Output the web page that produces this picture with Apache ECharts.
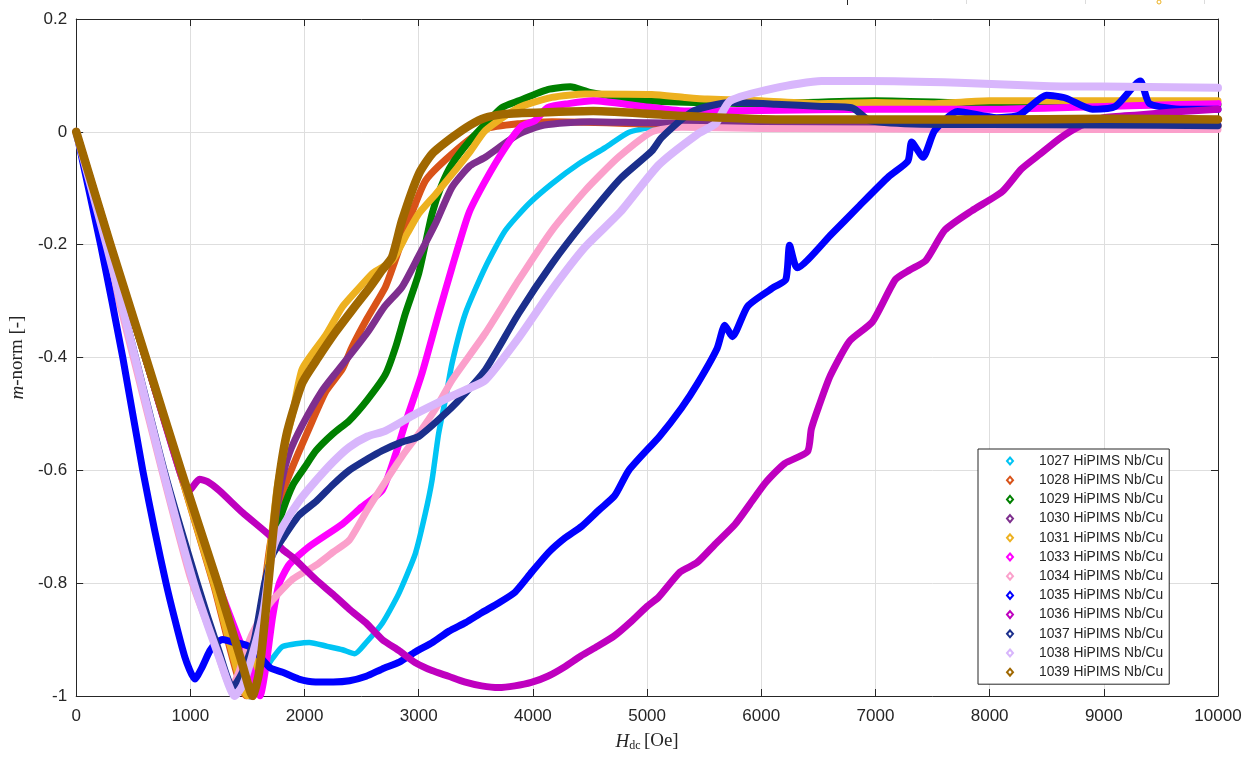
<!DOCTYPE html>
<html><head><meta charset="utf-8">
<script src="https://cdn.jsdelivr.net/npm/echarts@6/dist/echarts.min.js"></script>
<style>html,body{margin:0;padding:0;background:#fff}#c{width:1248px;height:759px}</style>
</head><body><div id="c"></div>
<script>
const seriesNames = ['1027 HiPIMS Nb/Cu','1028 HiPIMS Nb/Cu','1029 HiPIMS Nb/Cu','1030 HiPIMS Nb/Cu','1031 HiPIMS Nb/Cu','1033 HiPIMS Nb/Cu','1034 HiPIMS Nb/Cu','1035 HiPIMS Nb/Cu','1036 HiPIMS Nb/Cu','1037 HiPIMS Nb/Cu','1038 HiPIMS Nb/Cu','1039 HiPIMS Nb/Cu'];
const seriesColors = ['#00C4F4','#D95319','#008000','#7E2F8E','#EDB120','#FF00FF','#FBA0CB','#0000FF','#BF00BF','#1B2F8C','#D8B6FC','#A06800'];
const xTicks = [0,1000,2000,3000,4000,5000,6000,7000,8000,9000,10000];
const yTicks = [-1,-0.8,-0.6,-0.4,-0.2,0,0.2];

const s1027 = [[0,0],[305,-0.2],[615,-0.4],[920,-0.6],[1235,-0.8],[1540,-0.985],[1600,-0.975],[1680,-0.945],[1750,-0.925],[1810,-0.912],[2041,-0.905],[2200,-0.912],[2332,-0.918],[2440,-0.925],[2536,-0.906],[2681,-0.871],[2826,-0.818],[2971,-0.747],[3058,-0.676],[3116,-0.618],[3174,-0.535],[3232,-0.476],[3292,-0.41],[3408,-0.322],[3583,-0.24],[3758,-0.175],[3962,-0.128],[4166,-0.092],[4399,-0.057],[4633,-0.028],[4837,-0.001],[5041,0.008],[5500,0.012],[6000,0.013],[7000,0.012],[8000,0.014],[9000,0.012],[10000,0.013]];
const s1028 = [[0,0],[300,-0.2],[605,-0.4],[905,-0.6],[1200,-0.8],[1490,-1.0],[1560,-0.95],[1630,-0.84],[1700,-0.73],[1790,-0.65],[1866,-0.608],[2041,-0.525],[2187,-0.46],[2332,-0.42],[2417,-0.381],[2550,-0.33],[2708,-0.275],[2790,-0.23],[2883,-0.175],[3058,-0.087],[3292,-0.039],[3583,0.005],[3900,0.015],[4166,0.018],[5041,0.014],[6000,0.011],[7000,0.01],[8000,0.01],[9000,0.01],[10000,0.01]];
const s1029 = [[0,0],[300,-0.2],[605,-0.4],[910,-0.6],[1215,-0.8],[1520,-1.0],[1590,-0.93],[1660,-0.82],[1720,-0.73],[1808,-0.672],[1900,-0.625],[2000,-0.595],[2101,-0.565],[2250,-0.535],[2391,-0.512],[2550,-0.475],[2708,-0.43],[2800,-0.38],[2883,-0.322],[3000,-0.251],[3117,-0.145],[3200,-0.095],[3292,-0.057],[3450,-0.015],[3583,0.014],[3728,0.043],[3875,0.055],[4128,0.075],[4328,0.08],[4500,0.07],[5000,0.055],[6000,0.05],[7000,0.055],[8000,0.05],[9000,0.048],[10000,0.048]];
const s1030 = [[0,0],[300,-0.2],[605,-0.4],[910,-0.6],[1215,-0.8],[1520,-1.0],[1590,-0.93],[1650,-0.83],[1720,-0.72],[1800,-0.62],[1866,-0.57],[1980,-0.52],[2150,-0.46],[2271,-0.428],[2420,-0.39],[2563,-0.352],[2700,-0.31],[2854,-0.275],[3000,-0.22],[3146,-0.163],[3292,-0.098],[3450,-0.06],[3583,-0.045],[3875,-0.004],[4100,0.012],[4500,0.018],[5000,0.016],[6000,0.014],[7000,0.013],[8000,0.013],[9000,0.012],[10000,0.012]];
const s1031 = [[0,0],[300,-0.2],[605,-0.4],[905,-0.6],[1205,-0.8],[1500,-1.0],[1570,-0.93],[1650,-0.82],[1720,-0.7],[1760,-0.63],[1830,-0.555],[1895,-0.5],[1980,-0.42],[2187,-0.36],[2332,-0.31],[2507,-0.27],[2600,-0.25],[2767,-0.228],[2900,-0.18],[3000,-0.145],[3150,-0.11],[3292,-0.075],[3450,-0.035],[3583,0.002],[3875,0.043],[4166,0.061],[4458,0.067],[5041,0.066],[5328,0.061],[5528,0.058],[6000,0.055],[6500,0.05],[7000,0.052],[7500,0.05],[8000,0.055],[9000,0.055],[10000,0.055]];
const s1033 = [[0,0],[300,-0.2],[610,-0.4],[915,-0.6],[1240,-0.8],[1560,-0.97],[1610,-1.0],[1660,-0.95],[1720,-0.86],[1780,-0.8],[1866,-0.767],[2041,-0.735],[2332,-0.695],[2500,-0.665],[2681,-0.635],[2800,-0.57],[2883,-0.516],[3029,-0.428],[3175,-0.322],[3292,-0.24],[3437,-0.145],[3583,-0.087],[3758,-0.028],[3900,0.01],[4020,0.02],[4128,0.043],[4312,0.05],[4528,0.055],[4928,0.046],[5328,0.037],[6000,0.038],[7000,0.04],[8000,0.04],[9000,0.045],[10000,0.05]];
const s1034 = [[0,0],[250,-0.2],[500,-0.4],[750,-0.6],[1000,-0.79],[1200,-0.9],[1360,-0.985],[1420,-0.96],[1520,-0.9],[1620,-0.86],[1720,-0.83],[1895,-0.793],[2101,-0.768],[2250,-0.745],[2391,-0.724],[2550,-0.67],[2708,-0.62],[2854,-0.575],[3000,-0.535],[3150,-0.49],[3292,-0.44],[3583,-0.357],[3875,-0.263],[4166,-0.175],[4458,-0.104],[4749,-0.045],[5041,0.0],[5300,0.008],[6000,0.006],[7000,0.005],[8000,0.004],[9000,0.004],[10000,0.004]];
const s1035 = [[0,0],[214,-0.2],[408,-0.4],[583,-0.6],[787,-0.8],[950,-0.93],[1040,-0.97],[1100,-0.95],[1170,-0.92],[1230,-0.905],[1284,-0.9],[1380,-0.905],[1459,-0.908],[1540,-0.915],[1607,-0.93],[1700,-0.95],[1808,-0.958],[1950,-0.97],[2096,-0.975],[2250,-0.975],[2393,-0.973],[2540,-0.965],[2681,-0.952],[2830,-0.94],[2969,-0.922],[3120,-0.905],[3266,-0.885],[3410,-0.87],[3555,-0.852],[3700,-0.835],[3843,-0.816],[3991,-0.78],[4140,-0.745],[4280,-0.72],[4428,-0.699],[4580,-0.67],[4716,-0.645],[4840,-0.6],[5112,-0.539],[5300,-0.49],[5445,-0.445],[5613,-0.384],[5680,-0.343],[5747,-0.363],[5881,-0.309],[6114,-0.275],[6215,-0.262],[6248,-0.201],[6314,-0.241],[6616,-0.181],[6850,-0.133],[7118,-0.079],[7284,-0.052],[7317,-0.018],[7417,-0.045],[7518,0.002],[7719,0.036],[8061,0.025],[8262,0.03],[8498,0.065],[8664,0.06],[8900,0.04],[9100,0.045],[9319,0.09],[9400,0.05],[9700,0.04],[10000,0.04]];
const s1036 = [[0,0],[300,-0.2],[605,-0.4],[904,-0.6],[991,-0.636],[1079,-0.616],[1150,-0.62],[1254,-0.636],[1458,-0.675],[1691,-0.715],[1812,-0.741],[1895,-0.754],[2101,-0.794],[2250,-0.82],[2391,-0.846],[2536,-0.87],[2681,-0.9],[2830,-0.92],[2971,-0.941],[3116,-0.955],[3261,-0.965],[3400,-0.975],[3551,-0.982],[3700,-0.985],[3841,-0.982],[3986,-0.976],[4130,-0.965],[4280,-0.948],[4420,-0.929],[4566,-0.912],[4710,-0.894],[4850,-0.87],[5000,-0.841],[5100,-0.825],[5290,-0.78],[5435,-0.764],[5600,-0.73],[5769,-0.696],[5900,-0.66],[6037,-0.622],[6204,-0.588],[6405,-0.567],[6438,-0.527],[6505,-0.486],[6605,-0.432],[6773,-0.371],[6973,-0.337],[7174,-0.262],[7300,-0.245],[7441,-0.228],[7609,-0.174],[7843,-0.14],[8110,-0.106],[8278,-0.066],[8445,-0.039],[8612,-0.012],[8779,0.009],[9000,0.025],[9300,0.03],[9600,0.035],[10000,0.04]];
const s1037 = [[0,0],[265,-0.2],[520,-0.4],[770,-0.6],[1060,-0.8],[1250,-0.92],[1370,-0.985],[1450,-0.96],[1560,-0.9],[1650,-0.8],[1720,-0.75],[1808,-0.721],[1950,-0.68],[2101,-0.655],[2250,-0.625],[2391,-0.6],[2550,-0.58],[2681,-0.565],[2850,-0.55],[3000,-0.54],[3261,-0.494],[3400,-0.465],[3583,-0.422],[3875,-0.322],[4166,-0.234],[4458,-0.157],[4766,-0.083],[5041,-0.034],[5128,-0.01],[5408,0.037],[5728,0.052],[6128,0.049],[6528,0.045],[6800,0.042],[6950,0.02],[7328,0.014],[8000,0.013],[9000,0.012],[10000,0.011]];
const s1038 = [[0,0],[265,-0.2],[515,-0.4],[760,-0.6],[1030,-0.8],[1250,-0.93],[1390,-1.0],[1460,-0.98],[1540,-0.93],[1640,-0.85],[1720,-0.74],[1808,-0.7],[1950,-0.655],[2101,-0.618],[2250,-0.585],[2391,-0.559],[2550,-0.54],[2708,-0.53],[2971,-0.5],[3261,-0.471],[3435,-0.455],[3583,-0.44],[3875,-0.365],[4166,-0.28],[4458,-0.204],[4766,-0.142],[5100,-0.059],[5435,-0.005],[5602,0.015],[5728,0.055],[6128,0.078],[6528,0.09],[6928,0.09],[7728,0.087],[8528,0.081],[9200,0.08],[10000,0.078]];
const s1039 = [[0,0],[300,-0.2],[610,-0.4],[918,-0.6],[1239,-0.8],[1450,-0.94],[1545,-1.0],[1600,-0.96],[1660,-0.85],[1720,-0.72],[1776,-0.617],[1850,-0.53],[1980,-0.445],[2120,-0.4],[2271,-0.355],[2420,-0.315],[2563,-0.278],[2680,-0.245],[2767,-0.222],[2854,-0.157],[3000,-0.075],[3117,-0.039],[3292,-0.01],[3450,0.012],[3583,0.025],[3728,0.031],[3875,0.033],[4528,0.037],[5328,0.028],[6128,0.022],[7000,0.022],[8000,0.022],[9000,0.023],[10000,0.022]];

const seriesData = [s1027,s1028,s1029,s1030,s1031,s1033,s1034,s1035,s1036,s1037,s1038,s1039];
const lineWidths = [5.5,7,7,7,7,7,7,7,7,7,8,8.5];

const txt = '#262626';
const chart = echarts.init(document.getElementById('c'), null, {renderer:'canvas'});
const fmtY = v => { const r = Math.round(v*10)/10; return r === 0 ? '0' : String(r); };
chart.setOption({
  animation:false,
  backgroundColor:'#fff',
  grid:{left:73, top:19, right:30, bottom:63, containLabel:false},
  xAxis:[{
    type:'value', min:0, max:10000, interval:1000, position:'bottom',
    name:'{i|H}{s|dc} {r|[Oe]}', nameLocation:'middle', nameGap:35,
    nameTextStyle:{rich:{
      i:{fontFamily:'Liberation Serif', fontStyle:'italic', fontSize:19, color:txt},
      s:{fontFamily:'Liberation Serif', fontSize:12, color:txt, padding:[9,0,0,0]},
      r:{fontFamily:'Liberation Serif', fontSize:19, color:txt}
    }},
    axisLine:{show:true, onZero:false, lineStyle:{color:txt, width:1}},
    axisTick:{show:true, inside:true, length:7, lineStyle:{color:txt}},
    axisLabel:{color:txt, fontFamily:'Liberation Sans', fontSize:17, margin:12, formatter:v=>String(v)},
    splitLine:{show:true, lineStyle:{color:'#dedede', width:1}}
  },{
    type:'value', min:0, max:10000, interval:1000, position:'top',
    axisLine:{show:true, onZero:false, lineStyle:{color:txt, width:1}},
    axisTick:{show:true, inside:true, length:7, lineStyle:{color:txt}},
    axisLabel:{show:false}, splitLine:{show:false}
  }],
  yAxis:[{
    type:'value', min:-1, max:0.2, interval:0.2, position:'left',
    name:'{i|m}{r|-norm [-]}', nameLocation:'middle', nameGap:47, nameRotate:90,
    nameTextStyle:{rich:{
      i:{fontFamily:'Liberation Serif', fontStyle:'italic', fontSize:19, color:txt},
      r:{fontFamily:'Liberation Serif', fontSize:19, color:txt}
    }},
    axisLine:{show:true, onZero:false, lineStyle:{color:txt, width:1}},
    axisTick:{show:true, inside:true, length:7, lineStyle:{color:txt}},
    axisLabel:{color:txt, fontFamily:'Liberation Sans', fontSize:17, margin:9, formatter:fmtY},
    splitLine:{show:true, lineStyle:{color:'#dedede', width:1}}
  },{
    type:'value', min:-1, max:0.2, interval:0.2, position:'right',
    axisLine:{show:true, onZero:false, lineStyle:{color:txt, width:1}},
    axisTick:{show:true, inside:true, length:7, lineStyle:{color:txt}},
    axisLabel:{show:false}, splitLine:{show:false}
  }],
  legend:{
    orient:'vertical', left:978, top:449,
    padding:[5,6,5,28], itemGap:5.2, itemWidth:6, itemHeight:7,
    icon:'emptyDiamond',
    backgroundColor:'#fff', borderColor:txt, borderWidth:1, borderRadius:0,
    itemStyle:{borderWidth:1.1},
    textStyle:{color:txt, fontFamily:'Liberation Sans', fontSize:13.8, lineHeight:14, padding:[0,0,0,21]},
    data:seriesNames
  },
  graphic:[
    {type:'line', shape:{x1:847.5,y1:0,x2:847.5,y2:5}, style:{stroke:txt, lineWidth:1}, silent:true},
    {type:'line', shape:{x1:966.5,y1:0,x2:966.5,y2:4}, style:{stroke:'#dcdcdc', lineWidth:1}, silent:true},
    {type:'line', shape:{x1:1085.5,y1:0,x2:1085.5,y2:4}, style:{stroke:'#dcdcdc', lineWidth:1}, silent:true},
    {type:'line', shape:{x1:1204.5,y1:0,x2:1204.5,y2:4}, style:{stroke:'#dcdcdc', lineWidth:1}, silent:true},
    {type:'circle', shape:{cx:1159, cy:2, r:2}, style:{stroke:'#EDB120', fill:'#fff', lineWidth:1}, silent:true}
  ],
  series: seriesNames.map((n,i)=>({
    name:n, type:'line', xAxisIndex:0, yAxisIndex:0,
    data:seriesData[i], showSymbol:false, symbol:'emptyDiamond', smooth:0.2,
    lineStyle:{color:seriesColors[i], width:lineWidths[i], join:'round', cap:'round'},
    itemStyle:{color:seriesColors[i]},
    z:2+i
  }))
});
</script></body></html>
